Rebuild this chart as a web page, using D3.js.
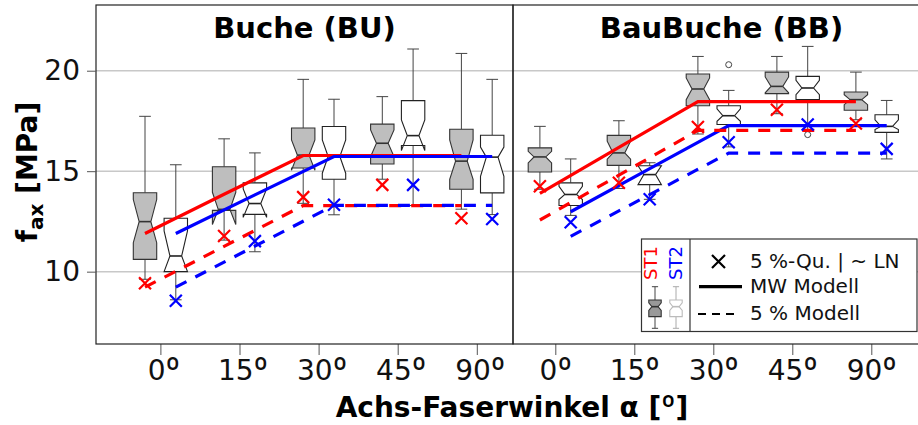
<!DOCTYPE html>
<html><head><meta charset="utf-8">
<script src="https://cdn.jsdelivr.net/npm/d3@7"></script>
<style>body{margin:0;background:#fff} svg{display:block;font-family:"DejaVu Sans",Verdana,sans-serif}</style>
</head><body><svg id="c" width="918" height="425"></svg>
<script>
const categories = ["0º","15º","30º","45º","90º"];
const series = ["ST1","ST2"];
const panelTitles = ["Buche (BU)","BauBuche (BB)"];
const yTicks = [10,15,20];
// box stats per angle: [whiskerLow, q1, notchLow, median, notchHigh, q3, whiskerHigh]
const BU_ST1 = [
 [9.62,10.61,11.44,12.49,13.59,13.93,17.73],
 [11.57,13.05,12.35,13.10,13.95,15.22,16.61],
 [13.40,15.16,15.05,15.80,16.56,17.15,19.57],
 [14.60,15.36,15.73,16.39,17.05,17.34,18.71],
 [13.11,14.10,14.60,15.50,16.56,17.09,20.86]];
const BU_ST2 = [
 [8.60,10.00,10.00,10.78,12.03,12.66,15.32],
 [10.99,12.85,12.70,13.39,14.12,14.42,15.91],
 [12.83,14.60,14.90,15.73,16.56,17.22,18.58],
 [13.29,16.28,16.03,16.77,17.55,18.51,21.08],
 [12.84,13.92,14.74,15.70,16.20,16.79,19.57]];
const BB_ST1 = [
 [14.10,14.96,15.41,15.71,15.99,16.16,17.23],
 [14.14,15.29,15.60,15.91,16.49,16.78,17.51],
 [16.85,18.26,18.56,19.09,19.64,19.84,20.71],
 [17.86,18.86,18.90,19.22,19.69,19.93,20.71],
 [17.56,18.03,18.31,18.56,18.81,18.94,19.93]];
const BB_ST2 = [
 [12.80,13.29,13.59,13.84,14.25,14.42,15.61],
 [13.60,14.33,14.33,14.83,15.27,15.27,15.42],
 [16.21,17.32,17.48,17.76,18.10,18.26,19.02],
 [17.07,18.56,18.81,19.14,19.52,19.72,21.21],
 [15.61,16.93,17.07,17.23,17.56,17.81,18.52]];
const BB_ST2_outliers = [["30º",20.30],["45º",16.82]];
// 5 %-quantiles (lognormal)
const BU_Q5_ST1 = [9.42,11.77,13.71,14.32,12.66];
const BU_Q5_ST2 = [8.55,11.52,13.33,14.32,12.62];
const BB_Q5_ST1 = [14.25,14.42,17.20,18.06,17.37];
const BB_Q5_ST2 = [12.46,13.60,16.44,17.32,16.11];
// models: mean (MW) and 5 %
const BU_MW_ST1 = [11.90,13.85,15.78,15.78,15.78];
const BU_MW_ST2 = [11.90,13.82,15.73,15.73,15.73];
const BU_M5_ST1 = [9.23,11.26,13.29,13.29,13.29];
const BU_M5_ST2 = [9.23,11.27,13.30,13.30,13.30];
const BB_MW_ST1 = [13.90,16.18,18.46,18.46,18.46];
const BB_MW_ST2 = [12.98,15.13,17.27,17.27,17.27];
const BB_M5_ST1 = [12.57,14.80,17.03,17.03,17.03];
const BB_M5_ST2 = [11.76,13.83,15.90,15.90,15.90];
// legend glyph box (relative units)
const legendBoxStats = [0,0.28,0.43,0.52,0.61,0.68,1];

const RED="#ff0000", BLUE="#0000ff", GRAY="#bebebe";
const svg = d3.select("#c");
const plotTop=5, plotBottom=344;
const y = d3.scaleLinear().domain([6.4,23.27]).range([plotBottom,plotTop]);
const panels = [
  {title:panelTitles[0], x0:96, x1:513, x:d3.scalePoint(categories,[160.4,476.8]), dx:3,
   st1:BU_ST1, st2:BU_ST2, q1:BU_Q5_ST1, q2:BU_Q5_ST2, mw1:BU_MW_ST1, mw2:BU_MW_ST2, m51:BU_M5_ST1, m52:BU_M5_ST2, out:[]},
  {title:panelTitles[1], x0:513, x1:930, x:d3.scalePoint(categories,[555.3,871.3]), dx:0,
   st1:BB_ST1, st2:BB_ST2, q1:BB_Q5_ST1, q2:BB_Q5_ST2, mw1:BB_MW_ST1, mw2:BB_MW_ST2, m51:BB_M5_ST1, m52:BB_M5_ST2, out:BB_ST2_outliers}
];
const sub = d3.scalePoint(series,[-15.4,15.4]);
const HW = 11.7;

// writes a label, setting the º in a font whose glyph is a plain raised o
function ordinalText(sel, str, size){
  sel.text(null);
  const i = str.indexOf("º");
  sel.append("tspan").text(str.slice(0,i));
  sel.append("tspan").attr("font-family","Roboto").attr("font-size",size).text("º");
  if(i+1<str.length) sel.append("tspan").text(str.slice(i+1));
}

svg.append("g").selectAll("line").data(yTicks).join("line")
  .attr("x1",96).attr("x2",930).attr("y1",d=>y(d)).attr("y2",d=>y(d))
  .attr("stroke","#c8c8c8").attr("stroke-width",1.5);

function drawBox(g, cx, s, yy, hw, fill, stroke, wstroke){
  const [wl,q1,nl,md,nh,q3,wh]=s;
  const pts=[[-hw,q3],[-hw,nh],[-hw/2,md],[-hw,nl],[-hw,q1],[hw,q1],[hw,nl],[hw/2,md],[hw,nh],[hw,q3]]
    .map(p=>[cx+p[0],yy(p[1])]);
  g.append("line").attr("x1",cx).attr("x2",cx).attr("y1",yy(wh)).attr("y2",yy(q3)).attr("stroke",wstroke);
  g.append("line").attr("x1",cx).attr("x2",cx).attr("y1",yy(q1)).attr("y2",yy(wl)).attr("stroke",wstroke);
  g.append("line").attr("x1",cx-hw/2).attr("x2",cx+hw/2).attr("y1",yy(wh)).attr("y2",yy(wh)).attr("stroke",wstroke);
  g.append("line").attr("x1",cx-hw/2).attr("x2",cx+hw/2).attr("y1",yy(wl)).attr("y2",yy(wl)).attr("stroke",wstroke);
  g.append("polygon").attr("points",pts.map(p=>p.join(",")).join(" "))
    .attr("fill",fill).attr("stroke",stroke).attr("stroke-width",1.1).attr("stroke-linejoin","miter");
  g.append("line").attr("x1",cx-hw/2).attr("x2",cx+hw/2).attr("y1",yy(md)).attr("y2",yy(md))
    .attr("stroke",stroke).attr("stroke-width",1.6);
}
const xMark = "M-6,-6L6,6M-6,6L6,-6";

panels.forEach(p=>{
  const g = svg.append("g");
  const ax = svg.append("g").attr("transform",`translate(0,${plotBottom})`)
    .call(d3.axisBottom(p.x).tickSize(11).tickSizeOuter(0).tickPadding(5));
  ax.select(".domain").remove();
  ax.selectAll(".tick line").attr("stroke","#555");
  ax.selectAll(".tick text").attr("font-size",28).attr("font-family","DejaVu Sans").attr("fill","#111").attr("dx",p.dx)
    .each(function(d){ ordinalText(d3.select(this), d, 32); });
  categories.forEach((c,i)=>{
    drawBox(g, p.x(c)+sub("ST1"), p.st1[i], y, HW, GRAY, "#333", "#444");
    drawBox(g, p.x(c)+sub("ST2"), p.st2[i], y, HW, "#fff", "#222", "#444");
  });
  g.selectAll("circle.o").data(p.out).join("circle")
    .attr("cx",d=>p.x(d[0])+sub("ST2")).attr("cy",d=>y(d[1])).attr("r",3)
    .attr("fill","#fff").attr("stroke","#444");
  const line = (off)=>d3.line().x((d,i)=>p.x(categories[i])+off).y(d=>y(d));
  [[p.mw1,"ST1",RED,null],[p.mw2,"ST2",BLUE,null],[p.m51,"ST1",RED,"12,10"],[p.m52,"ST2",BLUE,"12,10"]]
   .forEach(([arr,s,col,dash])=>{
    g.append("path").attr("d",line(sub(s))(arr)).attr("fill","none").attr("stroke",col)
     .attr("stroke-width",3.2).attr("stroke-dasharray",dash);
   });
  [[p.q1,"ST1",RED],[p.q2,"ST2",BLUE]].forEach(([arr,s,col])=>{
    g.selectAll(null).data(arr).join("path")
     .attr("transform",(d,i)=>`translate(${p.x(categories[i])+sub(s)},${y(d)})`)
     .attr("d",xMark).attr("stroke",col).attr("stroke-width",2.2).attr("fill","none");
  });
  svg.append("rect").attr("x",p.x0).attr("y",plotTop).attr("width",p.x1-p.x0).attr("height",plotBottom-plotTop)
    .attr("fill","none").attr("stroke","#222").attr("stroke-width",1.2);
  svg.append("text").attr("x",(p.x0+p.x1)/2).attr("y",38).attr("text-anchor","middle")
    .attr("font-weight","bold").attr("font-size",29).text(p.title);
});

const yax = svg.append("g").attr("transform","translate(96,0)")
  .call(d3.axisLeft(y).tickValues(yTicks).tickSize(9).tickPadding(7));
yax.select(".domain").remove();
yax.selectAll(".tick line").attr("stroke","#555");
yax.selectAll(".tick text").attr("font-size",28).attr("font-family","DejaVu Sans").attr("fill","#111");

const yl = svg.append("text").attr("transform","translate(37,172) rotate(-90)").attr("text-anchor","middle")
  .attr("font-weight","bold").attr("font-size",28);
yl.append("tspan").text("f");
yl.append("tspan").attr("font-size",20).attr("dy",6).text("ax");
yl.append("tspan").attr("dy",-6).text(" [MPa]");
svg.append("text").attr("x",512).attr("y",417).attr("text-anchor","middle")
  .attr("font-weight","bold").attr("font-size",28).call(ordinalText, "Achs-Faserwinkel α [º]", 31);

const L = svg.append("g");
L.append("rect").attr("x",641.5).attr("y",239).attr("width",275.5).attr("height",92.5)
  .attr("fill","#fff").attr("stroke","#333").attr("stroke-width",1.2);
L.append("line").attr("x1",690).attr("x2",690).attr("y1",239).attr("y2",331.5).attr("stroke","#333").attr("stroke-width",1.2);
L.append("text").attr("transform","translate(657,263) rotate(-90)").attr("text-anchor","middle")
  .attr("font-size",18).attr("fill",RED).text("ST1");
L.append("text").attr("transform","translate(682,263) rotate(-90)").attr("text-anchor","middle")
  .attr("font-size",18).attr("fill",BLUE).text("ST2");
const ly = d3.scaleLinear().domain([0,1]).range([328.3,286.7]);
drawBox(L, 655, legendBoxStats, ly, 6.2, "#999", "#333", "#444");
drawBox(L, 676, legendBoxStats, ly, 6.2, "#fff", "#bbb", "#aaa");
L.append("path").attr("transform","translate(718.5,261.5)").attr("d","M-6.5,-6.5L6.5,6.5M-6.5,6.5L6.5,-6.5")
  .attr("stroke","#000").attr("stroke-width",2.2);
L.append("line").attr("x1",699).attr("x2",742).attr("y1",286.7).attr("y2",286.7).attr("stroke","#000").attr("stroke-width",3.2);
L.append("line").attr("x1",698).attr("x2",740).attr("y1",314).attr("y2",314).attr("stroke","#000")
  .attr("stroke-width",2.2).attr("stroke-dasharray","8,6");
[["5 %-Qu. | ~ LN",267.5],["MW Modell",293],["5 % Modell",319.5]].forEach(([t,yy])=>{
  L.append("text").attr("x",750).attr("y",yy).attr("font-size",20).attr("fill","#111").text(t);
});
</script></body></html>
